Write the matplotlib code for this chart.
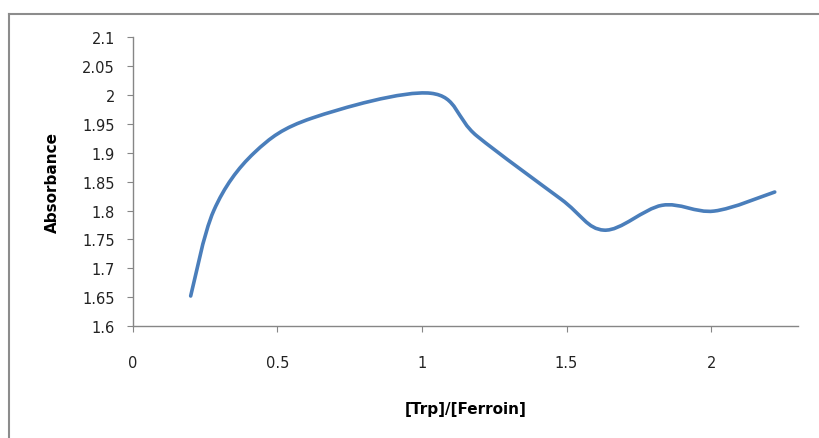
import numpy as np
import matplotlib.pyplot as plt
from matplotlib.path import Path
from matplotlib.patches import PathPatch
from matplotlib.lines import Line2D

plt.rcParams['font.family'] = ['DejaVu Sans']

# points (Excel smoothed line)
ratio = [0.20, 0.28, 0.42, 0.62, 1.03, 1.19, 1.48, 1.63, 1.83, 2.01, 2.22]
absorbance = [1.652, 1.800, 1.900, 1.960, 2.003, 1.929, 1.820, 1.766, 1.809, 1.799, 1.832]

xticks = [0, 0.5, 1, 1.5, 2]
yticks = np.round(np.arange(1.6, 2.1001, 0.05), 2)

fig = plt.figure(figsize=(8.2, 4.39), dpi=100)
ax = fig.add_axes([0.162, 0.255, 0.811, 0.658])

# chart area border (only top and left show in the crop)
bx, by = 9 / 820, 1 - 15 / 439
fig.add_artist(Line2D([bx, 1.0], [by, by], transform=fig.transFigure,
                      color='#8c8c8c', linewidth=1.5))
fig.add_artist(Line2D([bx, bx], [0, by], transform=fig.transFigure,
                      color='#8c8c8c', linewidth=1.5))

# smooth bezier through the points, like Excel's smoothed line
pts = np.column_stack([ratio, absorbance])
verts = [pts[0]]
codes = [Path.MOVETO]
n = len(pts)
for i in range(n - 1):
    p0 = pts[i - 1] if i > 0 else pts[i]
    p1 = pts[i]
    p2 = pts[i + 1]
    p3 = pts[i + 2] if i + 2 < n else pts[i + 1]
    c1 = p1 + (p2 - p0) / 6
    c2 = p2 - (p3 - p1) / 6
    verts += [c1, c2, p2]
    codes += [Path.CURVE4] * 3
ax.add_patch(PathPatch(Path(verts, codes), fill=False, edgecolor='#4a7ebb',
                       linewidth=2.6, capstyle='round', joinstyle='round'))

ax.set_xlim(0, 2.3)
ax.set_ylim(1.6, 2.1)
ax.set_xticks(xticks)
ax.set_xticklabels([f'{t:g}' for t in xticks])
ax.set_yticks(yticks)
ax.set_yticklabels([f'{t:g}' for t in yticks])

for s in ['top', 'right']:
    ax.spines[s].set_visible(False)
for s in ['left', 'bottom']:
    ax.spines[s].set_color('#868686')
    ax.spines[s].set_linewidth(1)
ax.tick_params(axis='both', direction='out', length=4, color='#868686',
               labelsize=10.5, labelcolor='#222222')
ax.tick_params(axis='x', pad=17)
ax.tick_params(axis='y', pad=9)

ax.set_xlabel('[Trp]/[Ferroin]', fontsize=11, fontweight='bold', labelpad=22)
ax.set_ylabel('Absorbance', fontsize=11, fontweight='bold', labelpad=16)

fig.savefig('out.png', dpi=100)
